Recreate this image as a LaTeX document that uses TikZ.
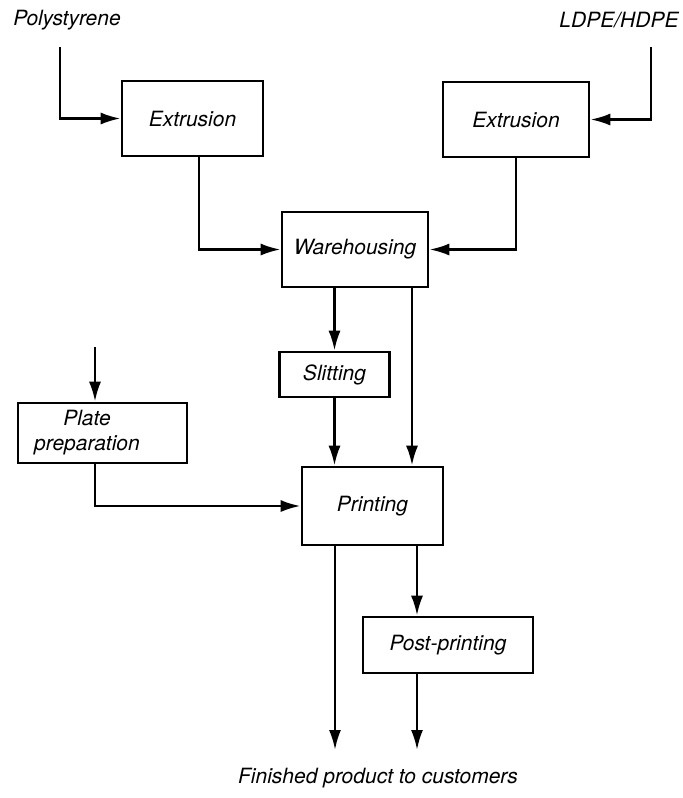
\documentclass[tikz,border=0pt]{standalone}
\usepackage{fontspec}
\setmainfont{TeX Gyre Heros}
\usetikzlibrary{arrows.meta}
\tikzstyle{proc_block}=[rectangle, draw=black, line width=1.3pt, inner sep=0pt, font=\fontsize{10.5}{12.5}\selectfont\itshape]
\tikzstyle{label_text}=[inner sep=0pt, align=center, font=\fontsize{10.5}{12.5}\selectfont\itshape]
\tikzstyle{arrow}=[-{Latex[length=10pt,width=6pt]}, line width=1.3pt]
\tikzstyle{line}=[line width=1.3pt]

\begin{document}
\begin{tikzpicture}[x=0.5pt,y=-0.5pt]
\useasboundingbox (0,0) rectangle (683,798);

% raw materials
\node[label_text] (poly) at (67,20) {Polystyrene};
\node[label_text] (ldpe) at (619,20) {LDPE/HDPE};
\coordinate (poly_in) at (60,47);
\coordinate (ldpe_in) at (651,47);

\node[proc_block, minimum width=70.5pt, minimum height=37.5pt] (ext_left) at (192.5,118.5) {Extrusion};
\node[proc_block, minimum width=73pt, minimum height=37.5pt] (ext_right) at (516,119.5) {Extrusion};
\node[proc_block, minimum width=73pt, minimum height=37.5pt] (warehouse) at (355,249.5) {Warehousing};
\node[proc_block, minimum width=55pt, minimum height=22.5pt] (slitting) at (334.5,374.5) {Slitting};
\node[proc_block, minimum width=84.5pt, minimum height=30pt] (plate) at (102.5,433) {};
\node[label_text] (plate_text) at (87,433) {Plate\\preparation};
\node[proc_block, minimum width=70.5pt, minimum height=39pt] (printing) at (372.5,506) {Printing};
\node[proc_block, minimum width=85pt, minimum height=28pt] (post) at (448,645) {Post-printing};

\node[label_text] (finished) at (378,778) {Finished product to customers};

\draw[arrow] (poly_in) |- (ext_left.west);
\draw[arrow] (ldpe_in) |- (ext_right.east);
\draw[arrow] ([xshift=3.25pt]ext_left.south) |- (warehouse.west);
\draw[arrow] (ext_right.south) |- (warehouse.east);

% warehouse outputs
\coordinate (wh_out) at ([xshift=28.5pt]warehouse.south);
\draw[arrow] (warehouse.south -| slitting.north) -- (slitting.north);
\draw[arrow] (wh_out) -- (wh_out |- printing.north);
\draw[arrow] (slitting.south) -- (slitting.south |- printing.north);

% plates
\coordinate (plate_in) at (95,347);
\draw[arrow] (plate_in) -- (plate_in |- plate.north);
\draw[arrow] (plate_in |- plate.south) |- (printing.west);

% to customers
\coordinate (out_a) at (335,750);
\coordinate (out_b) at (417,750);
\draw[arrow] (out_a |- printing.south) -- (out_a);
\draw[arrow] (out_b |- printing.south) -- (out_b |- post.north);
\draw[arrow] (out_b |- post.south) -- (out_b);
\end{tikzpicture}
\end{document}
